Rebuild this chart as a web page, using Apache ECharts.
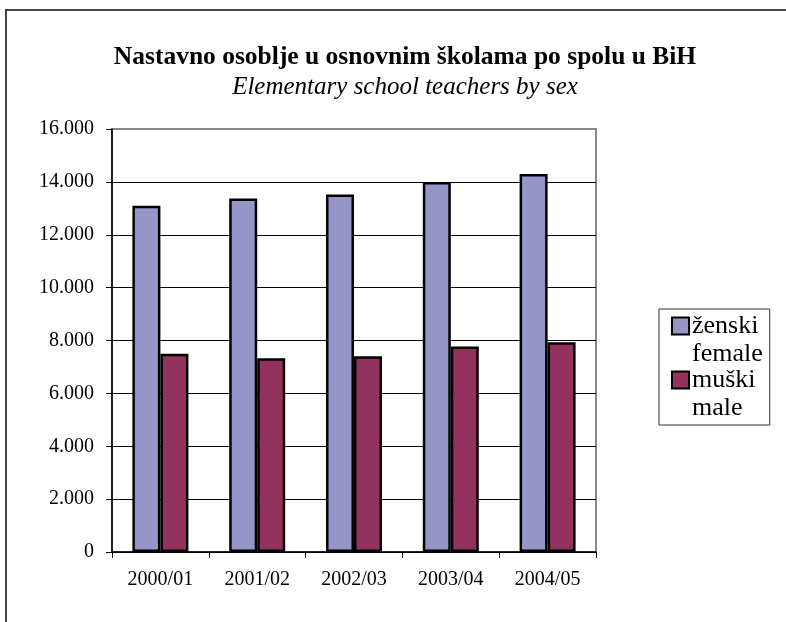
<!DOCTYPE html>
<html>
<head>
<meta charset="utf-8">
<script src="https://cdn.jsdelivr.net/npm/echarts@6/dist/echarts.min.js"></script>
<style>
html,body{margin:0;padding:0;background:#fff;}
#chart{width:786px;height:622px;}
</style>
</head>
<body>
<div id="chart"></div>
<script>
var categories = ['2000/01', '2001/02', '2002/03', '2003/04', '2004/05'];
var femaleValues = [13100, 13370, 13520, 14000, 14300];
var maleValues = [7500, 7330, 7400, 7770, 7930];
var seriesNames = ['ženski', 'muški'];
var seriesNamesEn = ['female', 'male'];
var titleText = 'Nastavno osoblje u osnovnim školama po spolu u BiH';
var subtitleText = 'Elementary school teachers by sex';

var FONT = '"Liberation Serif", "Times New Roman", serif';
var femaleColor = '#9595C8';
var maleColor = '#93325F';

var chart = echarts.init(document.getElementById('chart'), null, {renderer: 'canvas'});

function fmt(v) {
  return String(v).replace(/\B(?=(\d{3})+(?!\d))/g, '.');
}

var option = {
  backgroundColor: '#fff',
  animation: false,
  textStyle: {fontFamily: FONT},
  title: {
    text: titleText,
    subtext: subtitleText,
    left: 400,
    textAlign: 'center',
    top: 38,
    itemGap: 2,
    textStyle: {fontFamily: FONT, fontSize: 25.5, fontWeight: 'bold', color: '#000', lineHeight: 28},
    subtextStyle: {fontFamily: FONT, fontSize: 25, fontStyle: 'italic', color: '#000', lineHeight: 28}
  },
  graphic: [{
    type: 'rect',
    shape: {x: 6, y: 10, width: 1000, height: 1000},
    style: {fill: 'none', stroke: '#444', lineWidth: 2},
    silent: true,
    z: 100
  }],
  legend: {
    orient: 'vertical',
    left: 659,
    top: 309,
    data: seriesNames,
    itemWidth: 0,
    itemHeight: 0,
    itemGap: 0,
    padding: [4, 7, 4, 8],
    borderColor: '#333',
    borderWidth: 1,
    itemStyle: {opacity: 0},
    formatter: function (name) {
      var i = seriesNames.indexOf(name);
      var sq = i === 0 ? 'sqF' : 'sqM';
      return '{' + sq + '|}{t|' + name + '}\n{ind|}{t|' + seriesNamesEn[i] + '}';
    },
    textStyle: {
      fontFamily: FONT,
      fontSize: 26,
      color: '#000',
      rich: {
        sqF: {width: 15, height: 15, backgroundColor: femaleColor, borderColor: '#000', borderWidth: 2},
        sqM: {width: 15, height: 15, backgroundColor: maleColor, borderColor: '#000', borderWidth: 2},
        ind: {width: 15, height: 15},
        t: {fontFamily: FONT, fontSize: 26, color: '#000', lineHeight: 28, padding: [0, 0, 0, 4]}
      }
    }
  },
  grid: {
    left: 112,
    right: 190,
    top: 129,
    bottom: 70,
    show: true,
    borderColor: '#888',
    borderWidth: 2,
    containLabel: false
  },
  xAxis: {
    type: 'category',
    data: categories,
    axisLine: {lineStyle: {color: '#000', width: 1.5}},
    axisTick: {show: true, length: 6, lineStyle: {color: '#000'}},
    axisLabel: {fontFamily: FONT, fontSize: 20, color: '#000', margin: 18}
  },
  yAxis: {
    type: 'value',
    min: 0,
    max: 16000,
    interval: 2000,
    axisLine: {show: true, lineStyle: {color: '#000', width: 1.5}},
    axisTick: {show: true, inside: false, length: 6, lineStyle: {color: '#000'}},
    axisLabel: {fontFamily: FONT, fontSize: 20, color: '#000', margin: 18, formatter: fmt},
    splitLine: {show: true, lineStyle: {color: ['#000', '#000', '#000', '#000', '#000', '#000', '#000', '#000', '#888'], width: 1}}
  },
  series: [{
    name: seriesNames[0],
    type: 'bar',
    data: femaleValues,
    barWidth: 28,
    barGap: '0%',
    itemStyle: {color: femaleColor, borderColor: '#000', borderWidth: 2.5}
  }, {
    name: seriesNames[1],
    type: 'bar',
    data: maleValues,
    barWidth: 28,
    barGap: '0%',
    itemStyle: {color: maleColor, borderColor: '#000', borderWidth: 2.5}
  }]
};

chart.setOption(option);
</script>
</body>
</html>
